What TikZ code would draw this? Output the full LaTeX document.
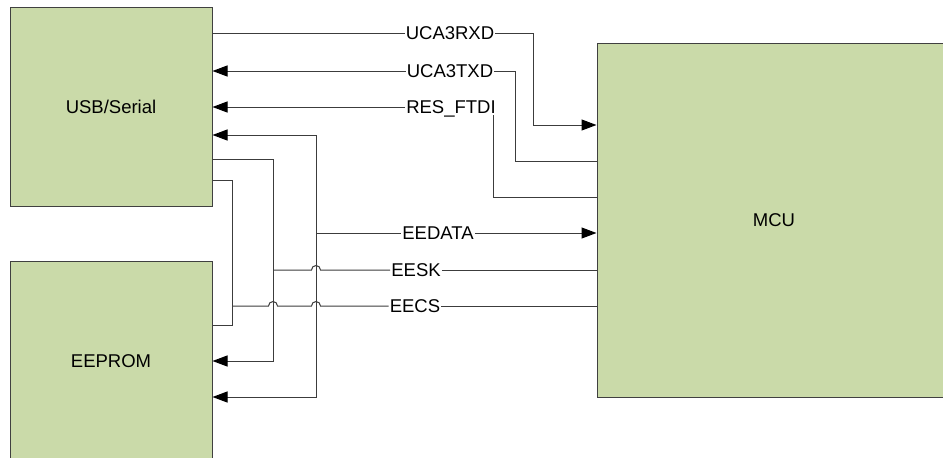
\documentclass[tikz,border=0pt]{standalone}
\usepackage{fontspec}
\setmainfont{Liberation Sans}
\usetikzlibrary{arrows.meta, positioning}
\definecolor{blockgreen}{RGB}{202,218,169}
\definecolor{wiregray}{RGB}{60,60,60}
\begin{document}
\begin{tikzpicture}[x=1pt, y=-1pt,
  block/.style={rectangle, draw=black!75, fill=blockgreen, line width=1pt,
                font=\fontsize{18.5}{22}\selectfont, minimum width=202pt},
  sig/.style={inner xsep=1pt, inner ysep=1pt, text height=13pt, text depth=0pt,
              font=\fontsize{18.5}{22}\selectfont},
  wire/.style={draw=wiregray, line width=1pt},
  intip/.style={-{Triangle[length=15pt, width=11pt, color=black]}},
  bothtip/.style={{Triangle[length=15pt, width=11pt, color=black]}-{Triangle[length=15pt, width=11pt, color=black]}}
]
\useasboundingbox (0,0) rectangle (943,458);
\node[block, minimum height=199pt] (usb) at (111,106.5) {USB/Serial};
\node[block, minimum height=200pt, below=54pt of usb] (eeprom) {EEPROM};
\node[block, minimum width=354pt, minimum height=354pt] (mcu) at (774,220) {MCU};
\node[sig] (rxd) at (450,33) {UCA3RXD};
\node[sig] (txd) at (450,71) {UCA3TXD};
\node[sig] (res) at (451,107) {RES\_FTDI};
\node[sig] (eedata) at (438,233) {EEDATA};
\node[sig] (eesk) at (416,270) {EESK};
\node[sig] (eecs) at (415,306) {EECS};
\coordinate (rxdbend) at (533,125);
\coordinate (txdbend) at (515,161);
\coordinate (resbend) at (493,197);
\coordinate (datatop) at (316,135);
\coordinate (databot) at (316,397);
\coordinate (sktop) at (273,159);
\coordinate (skbot) at (273,361);
\coordinate (cstop) at (232,180);
\coordinate (csbot) at (232,325);
\draw[wire] (usb.east |- rxd) -- (rxd.west);
\draw[wire, intip] (rxd.east) -| (rxdbend) -- (mcu.west |- rxdbend);
\draw[wire, intip] (txd.west) -- (usb.east |- txd);
\draw[wire] (txd.east) -| (txdbend) -- (mcu.west |- txdbend);
\draw[wire, intip] (res.west) -- (usb.east |- res);
\draw[wire] (mcu.west |- resbend) -- (resbend) -- (resbend |- res.south);
\draw[wire, bothtip] (usb.east |- datatop) -- (datatop) -- (databot) -- (eeprom.east |- databot);
\draw[wire] (datatop |- eedata) -- (eedata.west);
\draw[wire, intip] (eedata.east) -- (mcu.west |- eedata);
\draw[wire, intip] (usb.east |- sktop) -- (sktop) -- (skbot) -- (eeprom.east |- skbot);
\draw[wire] (sktop |- eesk) -- ++(38.5,0) arc[start angle=180, end angle=0, radius=4.5pt] -- (eesk.west);
\draw[wire] (eesk.east) -- (mcu.west |- eesk);
\draw[wire] (usb.east |- cstop) -- (cstop) -- (csbot) -- (eeprom.east |- csbot);
\draw[wire] (cstop |- eecs) -- ++(36.5,0) arc[start angle=180, end angle=0, radius=4.5pt]
  -- ++(34,0) arc[start angle=180, end angle=0, radius=4.5pt] -- (eecs.west);
\draw[wire] (eecs.east) -- (mcu.west |- eecs);
\end{tikzpicture}
\end{document}
